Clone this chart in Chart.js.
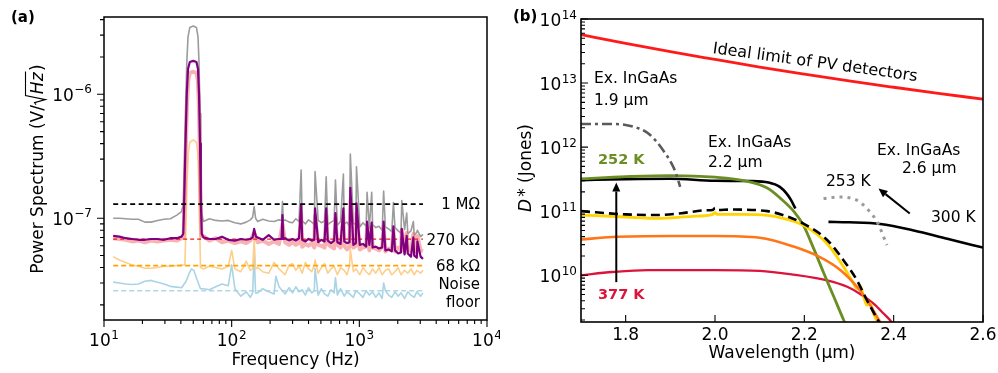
<!DOCTYPE html>
<html><head><meta charset="utf-8">
<script src="https://cdn.jsdelivr.net/npm/chart.js@4.4.1/dist/chart.umd.min.js"></script>
<style>
html,body{margin:0;padding:0;background:#fff;}
#wrap{position:relative;width:998px;height:373px;overflow:hidden;background:#fff;}
#a{position:absolute;left:0;top:0;}
#b{position:absolute;left:500px;top:0;}
</style></head><body>
<div id="wrap">
<canvas id="a" width="500" height="373"></canvas>
<canvas id="b" width="498" height="373"></canvas>
</div>
<script>
// ---------------- Panel (a) data : frequency (Hz), spectrum in units of 1e-8 V/sqrt(Hz)
const freqGrid = [11.8,13.2,14.8,16.6,18.6,20.9,23.4,26.3,29.5,33.1,37.2,40.5,
  60,67,75,84,94,106,118,130,140,160,175,195,215,235,262,282,
  300,318,337,357,378,400,424,444,476,504,534,566,600,635,673,713,762,800,838,898,
  940,1008,1068,1131,1198,1270,1345,1425,1510,1600,1695,1795,1902,2015,2120,2262,2397,2539,2690,2820,3020,3150];
const grayBase = [10.0,10.0,9.9,9.8,9.8,9.3,9.3,9.6,9.8,9.9,10.6,11.3,
  9.4,9.9,9.6,9.5,9.6,9.2,9.0,9.3,9.7,9.4,9.8,9.5,9.4,9.7,9.7,9.3,
  9.2,9.9,9.4,9.5,9.0,9.7,9.3,8.9,9.6,9.2,9.5,8.9,9.3,9.6,8.8,9.4,9.0,9.3,8.6,9.1,
  8.9,8.5,9.2,8.6,8.3,8.9,8.4,8.6,8.0,8.5,8.2,7.8,8.4,7.9,7.6,8.1,7.5,7.9,7.3,7.7,7.1,7.4];
const purpleBase = [7.2,7.1,6.9,6.8,6.7,6.7,6.8,6.8,6.7,6.9,6.9,7.1,
  7.0,6.8,6.8,7.1,6.7,6.6,6.8,6.7,6.8,7.0,6.7,7.3,6.7,6.8,6.9,6.6,
  6.8,6.6,6.9,6.7,6.5,6.8,6.6,6.7,6.4,6.7,6.5,6.6,6.3,6.6,6.4,6.2,6.5,6.3,6.4,6.1,
  6.3,6.1,6.2,5.9,6.1,5.8,5.9,5.7,5.8,5.5,5.6,5.4,5.5,5.2,5.3,5.1,5.2,4.9,5.0,4.8,4.9,4.7];
const pinkBase = [6.9,6.8,6.7,6.5,6.6,6.4,6.6,6.5,6.6,6.7,6.6,6.9,
  7.2,6.6,6.9,6.4,6.6,6.3,6.5,6.3,6.6,6.4,6.6,6.2,6.5,6.2,6.4,6.1,
  6.4,6.1,6.3,5.9,6.2,6.0,6.3,5.8,6.1,6.0,5.8,6.2,5.9,5.7,6.1,5.8,6.0,5.6,5.9,5.8,
  6.0,5.6,5.8,5.9,5.5,5.8,5.7,5.5,5.9,5.4,5.7,5.6,5.4,5.8,5.5,5.3,5.7,5.4,5.6,5.3,5.5,5.4];
const orangeBase = [4.9,4.6,4.4,4.2,4.1,3.95,3.95,4.0,4.1,4.1,4.15,4.2,
  3.9,4.1,4.0,3.9,4.1,3.9,3.7,4.5,3.8,4.0,3.7,3.6,4.4,3.9,3.5,4.2,
  4.3,3.8,4.1,3.6,4.4,3.9,3.7,4.2,3.6,4.0,4.3,3.6,3.9,4.1,3.5,4.0,3.8,3.5,4.1,3.7,
  3.9,3.5,4.0,3.7,3.5,3.9,3.6,4.0,3.5,3.8,3.9,3.5,3.7,4.0,3.5,3.8,3.6,3.9,3.5,3.8,3.6,3.8];
const blueBase = [3.05,3.0,2.95,2.92,2.95,3.1,3.15,3.05,2.95,2.82,2.78,2.75,
  2.7,2.65,2.8,2.95,2.85,2.7,2.35,2.55,2.3,2.5,2.7,2.55,2.45,2.8,2.45,2.75,
  2.5,2.8,2.55,2.65,2.4,2.75,2.5,2.6,2.4,2.7,2.45,2.35,2.65,2.5,2.4,2.7,2.35,2.55,2.45,2.3,
  2.6,2.45,2.3,2.6,2.4,2.55,2.3,2.5,2.25,2.6,2.4,2.3,2.55,2.35,2.5,2.25,2.55,2.4,2.3,2.55,2.35,2.5];
// 50 Hz peaks and other features [f, value]
const grayFeat = [[41.8,13],[42.5,25],[43.5,70],[44.5,180],[45.5,290],[47,345],[50,355],[53,345],[54.5,290],[55.5,180],[56.5,70],[57.3,25],[58.3,11],[146,10.2],[150,12.4],[154,10.0],[246,9.6],[250,13.6],[254,9.5]];
const purpleFeat = [[41.8,7.5],[42.5,14],[43.5,40],[44.5,100],[45.5,160],[47,182],[50,186],[53,182],[54.5,160],[55.5,100],[56.5,40],[57.3,14],[58.3,7.5],[146,7.0],[150,8.2],[155,7.1],[246,6.8],[250,10.6],[254,6.8]];
const pinkFeat = [[42,7],[42.7,13],[43.7,35],[44.7,85],[45.7,130],[47,148],[50,152],[53,148],[54.3,130],[55.3,85],[56.3,35],[57.1,13],[58,7.2],[150,7.6],[250,9.0]];
const orangeFeat = [[43,4.2],[43.8,8],[44.8,20],[45.8,34],[47,41],[50,42.8],[53,41],[54.2,34],[55.2,20],[56.2,8],[57,4.0],[100,5.5],[146,3.9],[150,6.8],[154,3.9]];
const blueFeat = [[44,3.1],[46.5,3.6],[48.5,3.9],[50.5,3.8],[53,3.3],[57,2.7],[100,4.2],[146,2.5],[150,5.2],[154,2.5],[222,3.4]];
// mains harmonics spikes
const harmF = [350,450,550,650,750,850,950,1150,1250,1550,1850,2150,2350,2650,2850];
const graySpike = [24.5,23.8,21.6,20.3,22.7,33.0,26.0,16.2,16.2,16.6,13.4,13.9,11.0,9.4,8.0];
const purpleSpike = [12.8,12.0,12.0,11.0,12.0,17.6,13.2,9.4,9.2,9.4,8.6,8.2,7.2,7.0,6.5];
const pinkSpike = [11.0,10.5,10.5,10.0,10.5,14.0,11.0,8.5,8.5,8.5,8.0,8.0,7.6,7.5,7.2];
const orangeSpike = [null,4.6,null,null,null,5.6,null,null,null,null,null,null,null,null,null];
const blueSpike = [null,3.95,null,3.3,null,null,null,null,null,3.0,null,null,null,null,null];
// reference (dashed) levels
const refRange = [11.8, 3150];
const ref1M = 13.0, ref270k = 6.77, ref68k = 4.15, refNoise = 2.6;
const resLabels = ['1 MΩ','270 kΩ','68 kΩ','Noise','floor'];

const leftXTicks = [10,100,1000,10000], leftXTickExp = ['1','2','3','4'];
const leftYTicks = [1e-7,1e-6], leftYTickExp = ['\u22127','\u22126'];

// ---------------- Panel (b) data : wavelength (um), D* (Jones)
const idealPV = [[1.7,5.7e13],[1.8,4.17e13],[1.9,3.09e13],[2.0,2.34e13],[2.1,1.78e13],[2.2,1.38e13],[2.3,1.08e13],[2.4,8.6e12],[2.5,6.9e12],[2.6,5.6e12]];
const exInGaAs19 = [[1.7,2.3e12],[1.76,2.3e12],[1.8,2.22e12],[1.83,1.95e12],[1.85,1.65e12],[1.87,1.2e12],[1.885,8.7e11],[1.9,6.0e11],[1.912,4.0e11],[1.922,2.4e11]];
const exInGaAs22 = [[1.7,3.05e11],[1.8,3.15e11],[1.9,3.2e11],[2.0,2.98e11],[2.08,2.95e11],[2.12,2.8e11],[2.145,2.4e11],[2.16,1.9e11],[2.17,1.5e11],[2.18,1.1e11]];
const dev252K = [[1.7,3.2e11],[1.8,3.45e11],[1.9,3.6e11],[2.0,3.4e11],[2.07,2.95e11],[2.117,2.3e11],[2.146,1.6e11],[2.176,1.0e11],[2.198,6.0e10],[2.221,2.6e10],[2.243,1.1e10],[2.266,4.6e9],[2.288,2.0e9],[2.3,1.3e9]];
const exInGaAs22dash = [[1.7,1.0e11],[1.8,8.9e10],[1.87,8.7e10],[1.925,9.3e10],[1.98,1.03e11],[1.995,1.04e11],[2.0,1.12e11],[2.005,1.04e11],[2.035,1.06e11],[2.117,1.0e11],[2.15,8.8e10],[2.198,6.4e10],[2.251,3.55e10],[2.288,1.7e10],[2.318,8.3e9],[2.34,4.1e9],[2.363,2.1e9],[2.375,1.5e9]];
const devYellow = [[1.7,8.7e10],[1.8,8.1e10],[1.87,7.7e10],[1.95,8.3e10],[1.995,8.9e10],[2.0,9.6e10],[2.005,8.9e10],[2.06,8.9e10],[2.117,8.6e10],[2.15,7.8e10],[2.198,6.0e10],[2.251,3.1e10],[2.288,1.35e10],[2.31,7.5e9],[2.318,6.2e9],[2.325,6.8e9],[2.333,4.6e9],[2.34,3.4e9],[2.348,3.6e9],[2.355,2.5e9],[2.363,1.9e9],[2.37,1.4e9]];
const devOrange = [[1.7,3.6e10],[1.77,3.95e10],[1.9,4.1e10],[2.0,4.1e10],[2.1,3.85e10],[2.176,2.8e10],[2.236,1.9e10],[2.281,1.2e10],[2.318,6.6e9],[2.34,4.1e9],[2.367,2.0e9],[2.38,1.4e9]];
const dev377K = [[1.7,1.0e10],[1.77,1.12e10],[1.85,1.2e10],[2.0,1.2e10],[2.1,1.17e10],[2.176,1.02e10],[2.251,8.3e9],[2.296,6.6e9],[2.325,5.1e9],[2.355,3.6e9],[2.378,2.5e9],[2.393,1.95e9],[2.405,1.5e9]];
const exInGaAs26_300K = [[2.254,6.8e10],[2.3,6.7e10],[2.37,6.3e10],[2.445,5.0e10],[2.52,3.7e10],[2.6,2.7e10]];
const exInGaAs26_253K = [[2.243,1.58e11],[2.28,1.66e11],[2.318,1.48e11],[2.34,1.10e11],[2.363,6.8e10],[2.385,2.95e10]];
const arrowTemp = [[1.779,7.8e9],[1.779,2.8e11]];
const arrowCool = [[2.436,9.2e10],[2.366,2.26e11]];

const rightXTicks = [1.8,2.0,2.2,2.4,2.6], rightXTickLabels = ['1.8','2.0','2.2','2.4','2.6'];
const rightYTicks = [1e10,1e11,1e12,1e13,1e14], rightYTickExp = ['10','11','12','13','14'];

// ---------------- helpers
const FONT = '"DejaVu Sans", sans-serif';
function buildSeries(base, feat, spikes){
  const pts = freqGrid.map((f,i)=>({x:f, y:base[i]*1e-8}));
  feat.forEach(p=>pts.push({x:p[0], y:p[1]*1e-8}));
  harmF.forEach((f,i)=>{ if(spikes[i]!=null) pts.push({x:f, y:spikes[i]*1e-8}); });
  pts.sort((a,b)=>a.x-b.x);
  return pts;
}
function refLine(v){ return [{x:refRange[0],y:v*1e-8},{x:refRange[1],y:v*1e-8}]; }
function xy(arr){ return arr.map(p=>({x:p[0],y:p[1]})); }
function minorLog(lo,hi){
  const out=[];
  for(let e=Math.floor(Math.log10(lo)); e<=Math.ceil(Math.log10(hi)); e++){
    for(let k=2;k<=9;k++){ const v=k*Math.pow(10,e); if(v>=lo*0.999 && v<=hi*1.001) out.push(v); }
  }
  return out;
}
function supLabel(ctx, base, exp, x, y, align){
  ctx.font = '17px '+FONT; const wb = ctx.measureText(base).width;
  ctx.font = '12px '+FONT; const we = ctx.measureText(exp).width;
  const total = wb + 0.5 + we;
  let x0 = align==='center' ? x-total/2 : (align==='right' ? x-total : x);
  ctx.textAlign='left'; ctx.textBaseline='alphabetic';
  ctx.font = '17px '+FONT; ctx.fillText(base, x0, y);
  ctx.font = '12px '+FONT; ctx.fillText(exp, x0+wb+0.5, y-7.5);
}
function drawArrow(ctx, x1,y1,x2,y2, lw, hl, hw){
  const ang = Math.atan2(y2-y1, x2-x1);
  const bx = x2 - hl*Math.cos(ang), by = y2 - hl*Math.sin(ang);
  ctx.lineWidth = lw; ctx.strokeStyle='#000'; ctx.fillStyle='#000';
  ctx.beginPath(); ctx.moveTo(x1,y1); ctx.lineTo(bx,by); ctx.stroke();
  ctx.beginPath(); ctx.moveTo(x2,y2);
  ctx.lineTo(bx + hw/2*Math.sin(ang), by - hw/2*Math.cos(ang));
  ctx.lineTo(bx - hw/2*Math.sin(ang), by + hw/2*Math.cos(ang));
  ctx.closePath(); ctx.fill();
}

// ---------------- panel (a) decorations
const decorA = {
  id:'decorA',
  afterDraw(chart){
    const ctx = chart.ctx, ca = chart.chartArea, xs = chart.scales.x, ys = chart.scales.y;
    ctx.save();
    ctx.strokeStyle='#000'; ctx.fillStyle='#000';
    ctx.lineWidth = 1.5;
    ctx.strokeRect(ca.left, ca.top, ca.right-ca.left, ca.bottom-ca.top);
    ctx.lineWidth = 1.1;
    ctx.beginPath();
    leftXTicks.forEach(v=>{ const p=xs.getPixelForValue(v); ctx.moveTo(p,ca.bottom); ctx.lineTo(p,ca.bottom+7); });
    minorLog(10,10000).forEach(v=>{ const p=xs.getPixelForValue(v); ctx.moveTo(p,ca.bottom); ctx.lineTo(p,ca.bottom+4); });
    leftYTicks.forEach(v=>{ const p=ys.getPixelForValue(v); ctx.moveTo(ca.left,p); ctx.lineTo(ca.left-7,p); });
    minorLog(ys.min, ys.max).forEach(v=>{ const p=ys.getPixelForValue(v); ctx.moveTo(ca.left,p); ctx.lineTo(ca.left-4,p); });
    ctx.stroke();
    leftXTicks.forEach((v,i)=>supLabel(ctx,'10',leftXTickExp[i], xs.getPixelForValue(v), 346, 'center'));
    leftYTicks.forEach((v,i)=>supLabel(ctx,'10',leftYTickExp[i], ca.left-12, ys.getPixelForValue(v)+6.5, 'right'));
    // x title
    ctx.font='17px '+FONT; ctx.textAlign='center'; ctx.fillText('Frequency (Hz)', (ca.left+ca.right)/2, 365);
    // y title with sqrt
    ctx.save(); ctx.translate(42.5, 169); ctx.rotate(-Math.PI/2);
    const fN='17px '+FONT, fI='italic 17px '+FONT;
    ctx.font=fN; const w1=ctx.measureText('Power Spectrum (V/').width; const wr=ctx.measureText(')').width;
    ctx.font=fI; const wh=ctx.measureText('Hz').width;
    const radW=11, total=w1+radW+wh+1.5+wr;
    let x=-total/2;
    ctx.textAlign='left';
    ctx.font=fN; ctx.fillText('Power Spectrum (V/', x, 0); x+=w1;
    ctx.lineWidth=1.1; ctx.beginPath();
    ctx.moveTo(x+0.5,-6.5); ctx.lineTo(x+2.5,-8); ctx.lineTo(x+5.5,3); ctx.lineTo(x+9.5,-17); ctx.lineTo(x+radW+wh+1,-17); ctx.stroke();
    x+=radW; ctx.font=fI; ctx.fillText('Hz', x, 0); x+=wh+1.5;
    ctx.font=fN; ctx.fillText(')', x, 0);
    ctx.restore();
    // resistance labels
    ctx.font='15px '+FONT; ctx.textAlign='right';
    ctx.fillText(resLabels[0], 480, 209);
    ctx.fillText(resLabels[1], 480, 245);
    ctx.fillText(resLabels[2], 480, 270.7);
    ctx.fillText(resLabels[3], 480, 289.3);
    ctx.fillText(resLabels[4], 480, 306.7);
    ctx.font='bold 15px '+FONT; ctx.textAlign='left';
    ctx.fillText('(a)', 11, 22);
    ctx.restore();
  }
};

// ---------------- panel (b) decorations
const decorB = {
  id:'decorB',
  afterDraw(chart){
    const ctx = chart.ctx, ca = chart.chartArea, xs = chart.scales.x, ys = chart.scales.y;
    ctx.save();
    ctx.strokeStyle='#000'; ctx.fillStyle='#000';
    ctx.lineWidth = 1.6;
    ctx.strokeRect(ca.left, ca.top, ca.right-ca.left, ca.bottom-ca.top);
    ctx.lineWidth = 1.1;
    ctx.beginPath();
    rightXTicks.forEach(v=>{ const p=xs.getPixelForValue(v); ctx.moveTo(p,ca.bottom); ctx.lineTo(p,ca.bottom-7); });
    rightYTicks.forEach(v=>{ const p=ys.getPixelForValue(v); ctx.moveTo(ca.left,p); ctx.lineTo(ca.left+7,p); });
    minorLog(ys.min, ys.max).forEach(v=>{ const p=ys.getPixelForValue(v); ctx.moveTo(ca.left,p); ctx.lineTo(ca.left+4,p); });
    ctx.stroke();
    ctx.font='17px '+FONT; ctx.textAlign='center';
    rightXTicks.forEach((v,i)=>ctx.fillText(rightXTickLabels[i], xs.getPixelForValue(v), 340));
    rightYTicks.forEach((v,i)=>supLabel(ctx,'10',rightYTickExp[i], ca.left-4, ys.getPixelForValue(v)+7, 'right'));
    ctx.font='17px '+FONT; ctx.textAlign='center';
    ctx.fillText('Wavelength (\u03bcm)', (ca.left+ca.right)/2, 358);
    // y title
    ctx.save(); ctx.translate(30.5, 168); ctx.rotate(-Math.PI/2);
    ctx.font='italic 17px '+FONT; const wD=ctx.measureText('D').width;
    ctx.font='17px '+FONT; const wS=ctx.measureText('*').width; const wJ=ctx.measureText(' (Jones)').width;
    const tot=wD+2+wS+wJ; let x=-tot/2; ctx.textAlign='left';
    ctx.font='italic 17px '+FONT; ctx.fillText('D', x, 0); x+=wD+2;
    ctx.font='17px '+FONT; ctx.fillText('*', x, -1); x+=wS;
    ctx.fillText(' (Jones)', x, 0);
    ctx.restore();
    // arrows
    drawArrow(ctx, xs.getPixelForValue(arrowTemp[0][0]), ys.getPixelForValue(arrowTemp[0][1]), xs.getPixelForValue(arrowTemp[1][0]), ys.getPixelForValue(arrowTemp[1][1]), 2, 9, 8);
    drawArrow(ctx, xs.getPixelForValue(arrowCool[0][0]), ys.getPixelForValue(arrowCool[0][1]), xs.getPixelForValue(arrowCool[1][0]), ys.getPixelForValue(arrowCool[1][1]), 2, 9, 8);
    // annotations
    ctx.fillStyle='#000'; ctx.textAlign='left'; ctx.font='15.5px '+FONT;
    ctx.fillText('Ex. InGaAs', 94, 83.3); ctx.fillText('1.9 \u03bcm', 94, 104.5);
    ctx.fillText('Ex. InGaAs', 208, 146.7); ctx.fillText('2.2 \u03bcm', 208, 166.7);
    ctx.fillText('Ex. InGaAs', 377, 155); ctx.fillText('2.6 \u03bcm', 402, 173.3);
    ctx.fillText('253 K', 326, 185.7);
    ctx.fillText('300 K', 431, 221.7);
    ctx.save(); ctx.translate(212.3, 53); ctx.rotate(7.8*Math.PI/180);
    ctx.font='16px '+FONT; ctx.fillText('Ideal limit of PV detectors', 0, 0);
    ctx.restore();
    ctx.font='bold 14.5px '+FONT;
    ctx.fillStyle='#6b8e23'; ctx.fillText('252 K', 98, 164);
    ctx.fillStyle='#dc143c'; ctx.fillText('377 K', 98, 299);
    ctx.fillStyle='#000'; ctx.font='bold 15px '+FONT; ctx.fillText('(b)', 13, 21);
    ctx.restore();
  }
};

// ---------------- charts
const lineBase = {pointRadius:0, borderJoinStyle:'round', fill:false};
new Chart(document.getElementById('a'), {
  type:'line',
  data:{datasets:[
    Object.assign({data:refLine(ref1M), borderColor:'#000', borderWidth:1.6, borderDash:[5,3.5], order:0}, lineBase),
    Object.assign({data:buildSeries(purpleBase,purpleFeat,purpleSpike), borderColor:'#800080', borderWidth:2.2, order:1}, lineBase),
    Object.assign({data:refLine(ref270k), borderColor:'#e8201e', borderWidth:1.2, borderDash:[4,3], order:2}, lineBase),
    Object.assign({data:buildSeries(pinkBase,pinkFeat,pinkSpike), borderColor:'rgba(242,115,115,0.55)', borderWidth:4, order:3}, lineBase),
    Object.assign({data:buildSeries(grayBase,grayFeat,graySpike), borderColor:'#9c9c9c', borderWidth:1.6, order:4}, lineBase),
    Object.assign({data:refLine(ref68k), borderColor:'#ffa500', borderWidth:1.8, borderDash:[5,3], order:5}, lineBase),
    Object.assign({data:buildSeries(orangeBase,orangeFeat,orangeSpike), borderColor:'#fdcf8c', borderWidth:1.6, order:6}, lineBase),
    Object.assign({data:buildSeries(blueBase,blueFeat,blueSpike), borderColor:'#a9d4e4', borderWidth:1.6, order:7}, lineBase),
    Object.assign({data:refLine(refNoise), borderColor:'#aed8e6', borderWidth:1.5, borderDash:[5,3], order:8}, lineBase)
  ]},
  options:{
    responsive:false, animation:false, events:[],
    layout:{padding:{left:104,right:13,top:17,bottom:53}},
    plugins:{legend:{display:false}, tooltip:{enabled:false}},
    elements:{line:{tension:0}},
    scales:{
      x:{type:'logarithmic', min:10, max:10000, display:false},
      y:{type:'logarithmic', min:1.51e-8, max:4.2e-6, display:false}
    }
  },
  plugins:[decorA]
});

const smooth = {pointRadius:0, fill:false, cubicInterpolationMode:'monotone', borderJoinStyle:'round'};
new Chart(document.getElementById('b'), {
  type:'line',
  data:{datasets:[
    Object.assign({data:xy(exInGaAs22dash), borderColor:'#000', borderWidth:2.6, borderDash:[9,5], order:0}, smooth),
    Object.assign({data:xy(devOrange), borderColor:'#ff7518', borderWidth:2.6, order:1}, smooth),
    Object.assign({data:xy(devYellow), borderColor:'#ffd400', borderWidth:2.8, order:2}, smooth),
    Object.assign({data:xy(exInGaAs19), borderColor:'#5a5a5a', borderWidth:2.6, borderDash:[10,4,3,4], order:3}, smooth),
    Object.assign({data:xy(dev252K), borderColor:'#6b8e23', borderWidth:2.8, order:4}, smooth),
    Object.assign({data:xy(exInGaAs22), borderColor:'#000', borderWidth:2.6, order:5}, smooth),
    Object.assign({data:xy(dev377K), borderColor:'#dc143c', borderWidth:2.4, order:6}, smooth),
    Object.assign({data:xy(idealPV), borderColor:'#ff1a1a', borderWidth:2.8, order:7}, smooth),
    Object.assign({data:xy(exInGaAs26_253K), borderColor:'#9a9a9a', borderWidth:3, borderDash:[3,5], order:8}, smooth),
    Object.assign({data:xy(exInGaAs26_300K), borderColor:'#000', borderWidth:2.6, order:9}, smooth)
  ]},
  options:{
    responsive:false, animation:false, events:[],
    layout:{padding:{left:81,right:15,top:19,bottom:51}},
    plugins:{legend:{display:false}, tooltip:{enabled:false}},
    scales:{
      x:{type:'linear', min:1.7, max:2.6, display:false},
      y:{type:'logarithmic', min:1.86e9, max:1e14, display:false}
    }
  },
  plugins:[decorB]
});
</script>
</body></html>
